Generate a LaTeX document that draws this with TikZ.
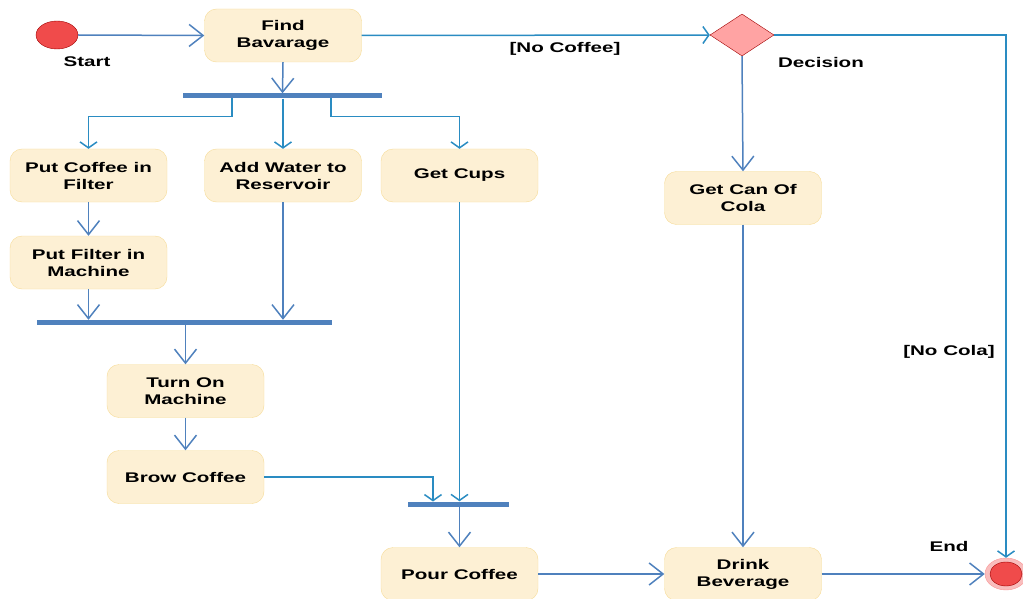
\documentclass[tikz,border=0pt]{standalone}
\usepackage{fontspec}
\setmainfont{Liberation Sans}[FakeStretch=1.47]
\usetikzlibrary{shapes.geometric,arrows.meta}
\definecolor{lineblue}{HTML}{4F81BD}
\definecolor{lineteal}{HTML}{2A8CC2}
\definecolor{boxfill}{HTML}{FDF0D4}
\definecolor{boxdraw}{HTML}{F6DB96}
\definecolor{startred}{HTML}{F04B4B}
\definecolor{darkred}{HTML}{A00000}
\definecolor{pinkring}{HTML}{F9BDBD}
\definecolor{decfill}{HTML}{FFA3A3}
\tikzset{
  act/.style={draw=boxdraw, fill=boxfill, rounded corners=12pt, minimum width=157pt, minimum height=53pt, inner sep=0pt, align=center, font=\fontsize{14}{17}\selectfont\bfseries},
  bar/.style={fill=lineblue, minimum height=5pt, inner sep=0pt},
  lbl/.style={font=\fontsize{14}{17}\selectfont\bfseries, inner sep=0pt},
  barr/.style={draw=lineblue, line width=1.5pt, -{Straight Barb[length=14pt,width=22pt,line width=1.5pt]}},
  tarr/.style={draw=lineteal, line width=1.5pt, -{Straight Barb[length=6pt,width=17pt,line width=1.5pt]}},
}
\begin{document}
\begin{tikzpicture}[x=1pt,y=-1pt]
\useasboundingbox (0,0) rectangle (1023,599);
% initial node
\node[ellipse, draw=darkred, fill=startred, minimum width=42pt, minimum height=28pt, inner sep=0pt] (start) at (57,35) {};
\node[lbl] (startlbl) at (87,62) {Start};
% activities
\node[act] (find) at (283,35.5) {Find\\Bavarage};
\node[act] (pcf) at (88.5,175.5) {Put Coffee in\\Filter};
\node[act] (awr) at (283,175.5) {Add Water to\\Reservoir};
\node[act] (cups) at (459.5,175.5) {Get Cups};
\node[act] (pfm) at (88.5,262.5) {Put Filter in\\Machine};
\node[act] (ton) at (185.5,391) {Turn On\\Machine};
\node[act] (brow) at (185.5,477) {Brow Coffee};
\node[act] (pour) at (459.5,574) {Pour Coffee};
\node[act] (cola) at (743,198) {Get Can Of\\Cola};
\node[act] (drink) at (743,574) {Drink\\Beverage};
% bars
\node[bar, minimum width=199pt] (fork1) at (282.5,96) {};
\node[bar, minimum width=295pt] (join1) at (184.5,322.5) {};
\node[bar, minimum width=101pt] (join2) at (458.5,504) {};
% decision
\node[diamond, draw=darkred, fill=decfill, aspect=1.5, minimum width=64pt, minimum height=42pt, inner sep=0pt] (dec) at (742,35) {};
\node[lbl] (declbl) at (821,62) {Decision};
% final node
\node[ellipse, draw=pinkring!80!red, fill=pinkring, minimum width=42pt, minimum height=32pt, inner sep=0pt] (endo) at (1006,574) {};
\node[ellipse, draw=darkred, fill=startred, minimum width=32pt, minimum height=24pt, inner sep=0pt] (endi) at (1006,574) {};
\node[lbl] (endlbl) at (949,546) {End};
% guards
\node[lbl] (nocoffee) at (565,49) {[No Coffee]};
\node[lbl] (nocola) at (949,352) {[No Cola]};
% coordinates
\coordinate (f1a) at (232,98.5);
\coordinate (f1c) at (331,98.5);
\coordinate (j2a) at (433,501.5);
% connectors
\draw[barr] (start.east) -- (find.west);
\draw[barr] (find.south) -- (fork1.north);
\draw[tarr] (f1a) -- ++(0,18) -| (pcf.north);
\draw[tarr] (fork1.south -| awr.north) -- (awr.north);
\draw[tarr] (f1c) -- ++(0,18) -| (cups.north);
\draw[barr] (pcf.south) -- (pfm.north);
\draw[barr] (pfm.south) -- (pfm.south |- join1.north);
\draw[barr] (awr.south) -- (awr.south |- join1.north);
\draw[barr] (join1.south -| ton.north) -- (ton.north);
\draw[barr] (ton.south) -- (brow.north);
\draw[tarr] (brow.east) -| (j2a);
\draw[tarr] (cups.south) -- (cups.south |- join2.north);
\draw[barr] (join2.south -| pour.north) -- (pour.north);
\draw[barr] (pour.east) -- (drink.west);
\draw[barr] (drink.east) -- (endo.west);
\draw[tarr] (find.east) -- (dec.west);
\draw[barr] (dec.south) -- (cola.north);
\draw[barr] (cola.south) -- (drink.north);
\draw[tarr] (dec.east) -| (endo.north);
\end{tikzpicture}
\end{document}
